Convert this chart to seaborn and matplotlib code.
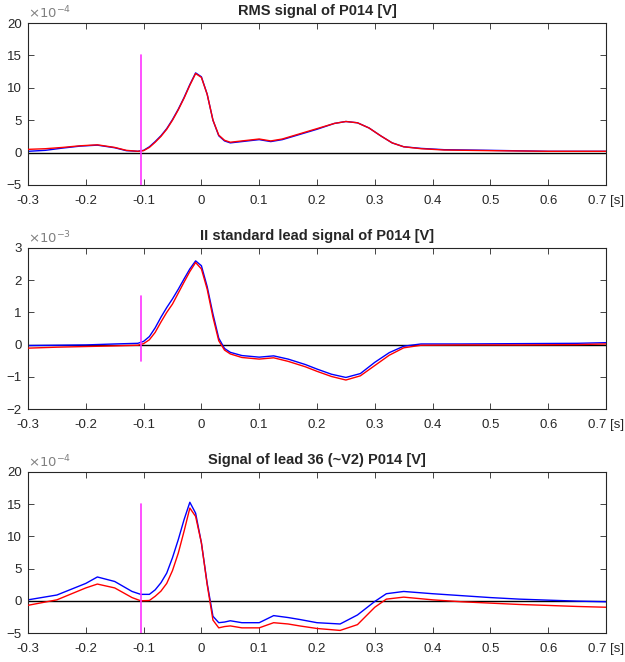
import numpy as np
import pandas as pd
import matplotlib
matplotlib.use('Agg')
import matplotlib.pyplot as plt
import seaborn as sns

# panel 1: RMS signal (x1e-4 V)
t1 = [-0.3, -0.27, -0.24, -0.21, -0.18, -0.15, -0.13, -0.11, -0.1, -0.09, -0.08, -0.07, -0.06, -0.05,
      -0.04, -0.03, -0.02, -0.01, 0.0, 0.01, 0.02, 0.03, 0.04, 0.05, 0.07, 0.1, 0.12, 0.14, 0.17, 0.2,
      0.23, 0.25, 0.27, 0.29, 0.31, 0.33, 0.35, 0.38, 0.42, 0.5, 0.6, 0.7]
rms_red = [0.5, 0.6, 0.8, 1.05, 1.2, 0.8, 0.35, 0.2, 0.3, 0.8, 1.6, 2.5, 3.6, 5.0,
           6.6, 8.4, 10.4, 12.2, 11.6, 9.0, 5.0, 2.7, 1.9, 1.6, 1.8, 2.1, 1.8, 2.1, 2.9, 3.7,
           4.5, 4.8, 4.6, 3.8, 2.6, 1.5, 0.9, 0.6, 0.4, 0.3, 0.2, 0.2]
rms_blue = [0.2, 0.35, 0.7, 1.0, 1.15, 0.75, 0.3, 0.2, 0.35, 0.9, 1.7, 2.6, 3.7, 5.1,
            6.7, 8.5, 10.5, 12.3, 11.7, 9.0, 5.0, 2.6, 1.8, 1.5, 1.7, 2.0, 1.7, 2.0, 2.8, 3.6,
            4.5, 4.8, 4.6, 3.8, 2.6, 1.5, 0.9, 0.65, 0.45, 0.35, 0.2, 0.2]

# panel 2: II standard lead (x1e-3 V)
t2 = [-0.3, -0.25, -0.2, -0.15, -0.11, -0.1, -0.09, -0.08, -0.07, -0.06, -0.05, -0.04, -0.03, -0.02,
      -0.01, 0.0, 0.01, 0.02, 0.03, 0.04, 0.05, 0.07, 0.1, 0.125, 0.15, 0.18, 0.2, 0.225, 0.25, 0.275,
      0.3, 0.325, 0.35, 0.38, 0.45, 0.55, 0.65, 0.7]
ii_blue = [-0.03, -0.02, -0.01, 0.02, 0.04, 0.1, 0.25, 0.52, 0.85, 1.15, 1.42, 1.72, 2.04, 2.35,
           2.6, 2.45, 1.8, 0.95, 0.2, -0.12, -0.24, -0.34, -0.39, -0.35, -0.45, -0.62, -0.76, -0.92, -1.02, -0.9,
           -0.55, -0.25, -0.05, 0.02, 0.02, 0.03, 0.04, 0.06]
ii_red = [-0.11, -0.08, -0.06, -0.04, -0.02, 0.03, 0.15, 0.38, 0.7, 1.0, 1.26, 1.6, 1.94, 2.27,
          2.55, 2.35, 1.72, 0.85, 0.12, -0.17, -0.29, -0.4, -0.45, -0.41, -0.52, -0.69, -0.83, -0.99, -1.1, -0.97,
          -0.65, -0.33, -0.1, -0.02, -0.01, -0.01, 0.0, 0.02]

# panel 3: lead 36 (~V2) (x1e-4 V)
t3 = [-0.3, -0.25, -0.2, -0.18, -0.15, -0.12, -0.105, -0.09, -0.08, -0.07, -0.06, -0.05, -0.04, -0.03,
      -0.02, -0.01, 0.0, 0.01, 0.02, 0.03, 0.04, 0.05, 0.07, 0.1, 0.125, 0.15, 0.17, 0.2, 0.24, 0.27,
      0.3, 0.32, 0.35, 0.4, 0.45, 0.5, 0.55, 0.6, 0.65, 0.7]
v2_blue = [0.15, 0.9, 2.7, 3.7, 3.0, 1.45, 1.0, 1.0, 1.7, 2.8, 4.3, 6.7, 9.5, 12.6,
           15.3, 13.6, 9.0, 2.7, -2.4, -3.4, -3.3, -3.1, -3.4, -3.4, -2.3, -2.6, -2.9, -3.4, -3.6, -2.2,
           -0.1, 1.1, 1.45, 1.1, 0.8, 0.5, 0.26, 0.1, -0.05, -0.15]
v2_red = [-0.7, 0.15, 2.0, 2.6, 2.0, 0.5, 0.0, 0.05, 0.7, 1.5, 2.7, 4.7, 7.4, 10.8,
          14.4, 13.1, 9.0, 2.5, -3.0, -4.2, -4.0, -3.9, -4.2, -4.2, -3.4, -3.6, -3.9, -4.3, -4.6, -3.7,
          -1.0, 0.26, 0.57, 0.15, -0.15, -0.36, -0.57, -0.72, -0.88, -1.0]

titles = ['RMS signal of P014 [V]', 'II standard lead signal of P014 [V]', 'Signal of lead 36 (~V2) P014 [V]']
exponents = ['$\\times10^{-4}$', '$\\times10^{-3}$', '$\\times10^{-4}$']
ylims = [(-5, 20), (-2, 3), (-5, 20)]
yticks = [[-5, 0, 5, 10, 15, 20], [-2, -1, 0, 1, 2, 3], [-5, 0, 5, 10, 15, 20]]
marker_t = -0.105
marker_span = [(-5, 15), (-0.5, 1.5), (-5, 15)]
xticks = [-0.3, -0.2, -0.1, 0, 0.1, 0.2, 0.3, 0.4, 0.5, 0.6, 0.7]
xticklabels = ['-0.3', '-0.2', '-0.1', '0', '0.1', '0.2', '0.3', '0.4', '0.5', '0.6', '0.7 [s]']

sns.set_style('ticks')
plt.rcParams['font.family'] = ['Liberation Sans', 'DejaVu Sans']
plt.rcParams['font.size'] = 9.5
plt.rcParams['axes.edgecolor'] = '#262626'
plt.rcParams['xtick.color'] = '#262626'
plt.rcParams['ytick.color'] = '#262626'

fig = plt.figure(figsize=(6.25, 6.62), dpi=100)
# axes boxes from pixel edges (left, top, right, bottom)
boxes = [(28, 23, 606, 185), (28, 248, 606, 409), (28, 472, 606, 633)]

data = [(t1, rms_blue, rms_red), (t2, ii_blue, ii_red), (t3, v2_blue, v2_red)]

for i, (t, blue, red) in enumerate(data):
    l, tp, r, b = boxes[i]
    ax = fig.add_axes([l / 625, 1 - b / 662, (r - l) / 625, (b - tp) / 662])
    df = pd.DataFrame({'t': t, 'blue': blue, 'red': red})
    ax.axhline(0, color='black', lw=1, zorder=1)
    sns.lineplot(data=df, x='t', y='blue', color='blue', lw=1, ax=ax, zorder=2)
    sns.lineplot(data=df, x='t', y='red', color='red', lw=1, ax=ax, zorder=3)
    ax.plot([marker_t, marker_t], marker_span[i], color='#ff33ff', lw=1.2, zorder=4)
    ax.set_xlim(-0.3, 0.7)
    ax.set_ylim(*ylims[i])
    ax.set_xticks(xticks)
    ax.set_xticklabels(xticklabels)
    ax.set_yticks(yticks[i])
    ax.set_xlabel('')
    ax.set_ylabel('')
    ax.tick_params(direction='in', top=True, right=True, length=4, width=0.6, labelsize=9.5)
    ax.tick_params(axis='x', pad=7)
    ax.tick_params(axis='y', pad=4.5)
    for s in ax.spines.values():
        s.set_linewidth(0.8)
    ax.set_title(titles[i], fontweight='bold', fontsize=10.5, pad=5.5)
    ax.text(0.0, 1.01, exponents[i], transform=ax.transAxes, color='#808080', fontsize=9.5,
            ha='left', va='bottom')

fig.savefig('out.png', dpi=100)
